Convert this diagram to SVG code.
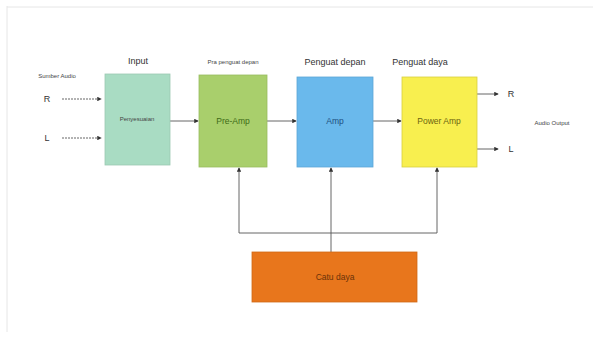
<svg xmlns="http://www.w3.org/2000/svg" width="593" height="342" viewBox="0 0 593 342">
<style>
text{font-family:"Liberation Sans",Arial,sans-serif;text-anchor:middle}
.t{font-size:9px;fill:#333}
.s{font-size:6px;fill:#444}
.c{stroke:#555;stroke-width:0.9;fill:none}
.b{stroke:#cfcfcf;stroke-width:0.6}
</style>
<defs>
<marker id="a" viewBox="0 0 6 6" refX="5" refY="3" markerWidth="5" markerHeight="5" orient="auto"><path d="M0,0L6,3L0,6z" fill="#333"/></marker>
</defs>
<rect width="593" height="342" fill="#fff"/>
<g id="frame" fill="none" stroke="#e6e6e6" stroke-width="1">
<line x1="7" y1="6" x2="7" y2="332"/>
<line x1="7" y1="7" x2="593" y2="7"/>
</g>
<g id="connectors">
<line class="c" x1="62" y1="99" x2="101" y2="99" marker-end="url(#a)" stroke-dasharray="2 1"/>
<line class="c" x1="62" y1="138" x2="101" y2="138" marker-end="url(#a)" stroke-dasharray="2 1"/>
<line class="c" x1="170" y1="121" x2="198" y2="121" marker-end="url(#a)"/>
<line class="c" x1="267" y1="121" x2="296" y2="121" marker-end="url(#a)"/>
<line class="c" x1="373" y1="121" x2="401" y2="121" marker-end="url(#a)"/>
<line class="c" x1="477" y1="94" x2="498" y2="94" marker-end="url(#a)"/>
<line class="c" x1="477" y1="149" x2="498" y2="149" marker-end="url(#a)"/>
<polyline class="c" points="239,233 239,168" marker-end="url(#a)"/>
<polyline class="c" points="437,233 437,168" marker-end="url(#a)"/>
<line class="c" x1="239" y1="233" x2="437" y2="233"/>
<line class="c" x1="331" y1="252" x2="331" y2="168" marker-end="url(#a)"/>
</g>
<g id="input">
<rect x="105" y="74" width="65" height="91" fill="#a9dcc3" stroke="#9cc9b2" stroke-width="0.8"/>
<text class="s" x="137" y="121">Penyesuaian</text>
<text class="t" x="138" y="64">Input</text>
</g>
<g id="preamp">
<rect x="199" y="75" width="68" height="92" fill="#a9cf6c" stroke="#98bc60" stroke-width="0.8"/>
<text x="233" y="124" font-size="8.5" fill="#3d6b16">Pre-Amp</text>
<text class="s" x="233" y="64">Pra penguat depan</text>
</g>
<g id="amp">
<rect x="297" y="77" width="76" height="90" fill="#6ab9ec" stroke="#5ca6d6" stroke-width="0.8"/>
<text x="335" y="124" font-size="8.5" fill="#1d4f80">Amp</text>
<text class="t" x="335" y="65">Penguat depan</text>
</g>
<g id="poweramp">
<rect x="402" y="77" width="75" height="90" fill="#f8ef4f" stroke="#d8cf40" stroke-width="0.8"/>
<text x="439" y="124" font-size="8.5" fill="#6b6410">Power Amp</text>
<text class="t" x="420" y="65">Penguat daya</text>
</g>
<g id="catudaya">
<rect x="252" y="252" width="165" height="50" fill="#e8761c" stroke="#d06a18" stroke-width="0.8"/>
<text x="335" y="280" font-size="8.5" fill="#6b3208">Catu daya</text>
</g>
<g id="labels">
<text class="s" x="57" y="78">Sumber Audio</text>
<text class="t" x="47" y="102">R</text>
<text class="t" x="47" y="141">L</text>
<text class="t" x="511" y="97">R</text>
<text class="t" x="511" y="152">L</text>
<text class="s" x="552" y="125">Audio Output</text>
</g>
</svg>
